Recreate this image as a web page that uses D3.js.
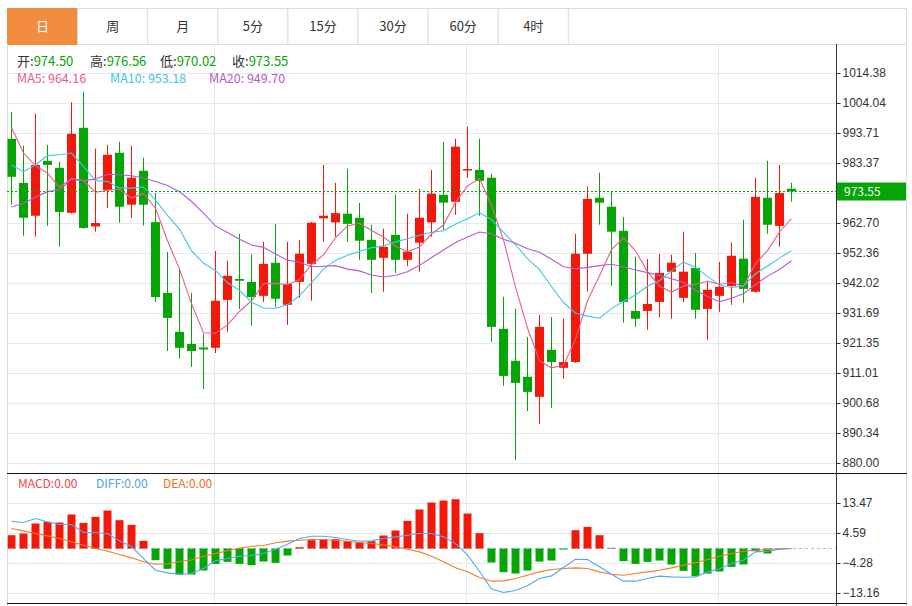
<!DOCTYPE html>
<html>
<head>
<meta charset="utf-8">
<script src="https://cdn.jsdelivr.net/npm/d3@7/dist/d3.min.js"></script>
<style>
  body { margin: 0; background: #fff; }
  svg { display: block; font-family: "Noto Sans CJK SC", "Noto Sans", sans-serif; }
</style>
</head>
<body>
<svg id="chart" width="912" height="606"></svg>
<script>
//tab labels
const tabs = ['日', '周', '月', '5分', '15分', '30分', '60分', '4时'];

//daily candles, oldest first
const open = [991.7, 976.5, 965.2, 984.1, 981.7, 966.2, 995.5, 961.5, 974.1, 986.9,
    969.0, 980.7, 963.0, 938.6, 925.2, 921.0, 919.8, 919.7, 936.2, 943.4,
    942.4, 937.6, 949.0, 934.5, 942.4, 948.6, 964.3, 962.9, 965.9, 964.5,
    956.9, 950.7, 958.6, 950.0, 955.9, 962.9, 972.4, 970.0, 980.8, 981.0,
    978.3, 926.2, 915.2, 909.7, 902.8, 919.0, 912.8, 914.8, 952.1, 971.4,
    968.3, 960.0, 932.4, 932.4, 935.5, 945.9, 936.9, 947.2, 933.1, 937.6,
    941.0, 950.4, 939.0, 971.4, 961.7, 974.50];
const high = [1001.0, 989.3, 1000.3, 989.6, 983.8, 1004.3, 1007.9, 988.3, 989.6, 990.7,
    989.3, 985.2, 973.0, 952.7, 946.9, 938.6, 924.4, 953.1, 949.7, 959.0,
    951.8, 956.2, 962.4, 956.2, 956.9, 963.1, 982.7, 976.5, 981.4, 969.6,
    962.1, 960.7, 972.4, 965.9, 974.5, 981.0, 990.7, 991.7, 995.9, 991.7,
    979.7, 937.3, 933.1, 923.4, 931.0, 930.3, 929.7, 959.0, 975.3, 980.0,
    973.4, 964.8, 951.1, 950.3, 952.1, 951.8, 959.7, 952.4, 942.8, 949.3,
    955.9, 963.8, 978.3, 984.1, 982.7, 976.56];
const low = [969.0, 958.3, 958.0, 961.7, 954.5, 965.9, 960.7, 959.7, 967.9, 962.8,
    964.5, 961.8, 935.5, 918.6, 915.9, 913.1, 905.5, 917.9, 925.2, 933.1,
    927.3, 935.5, 933.8, 927.6, 936.9, 935.9, 956.2, 958.0, 956.2, 950.0,
    938.6, 939.0, 945.5, 947.9, 945.9, 958.0, 960.3, 965.5, 978.3, 965.2,
    921.7, 906.6, 881.0, 897.9, 893.4, 899.0, 909.0, 914.5, 939.0, 962.1,
    941.0, 928.3, 926.9, 925.9, 930.3, 929.7, 935.5, 929.7, 922.4, 932.1,
    934.5, 935.2, 938.7, 959.0, 954.5, 970.02];
const close = [978.6, 964.5, 982.7, 982.7, 966.5, 993.4, 961.0, 962.7, 986.2, 968.3,
    978.3, 969.0, 937.2, 930.0, 919.7, 918.6, 919.1, 935.9, 944.5, 942.8,
    937.2, 948.6, 936.6, 941.7, 952.1, 962.8, 965.2, 966.1, 962.4, 956.6,
    950.0, 954.5, 950.0, 952.8, 964.5, 972.8, 969.7, 989.0, 981.3, 977.2,
    926.9, 910.0, 907.6, 904.5, 926.9, 914.8, 914.8, 952.1, 971.0, 969.7,
    959.7, 935.5, 929.7, 934.8, 945.5, 949.0, 945.9, 932.8, 939.7, 940.7,
    951.4, 940.0, 971.7, 962.1, 973.0, 973.55];

//moving averages as drawn
const ma5 = [995.6, 986.8, 982.4, 979.9, 975.0, 978.0, 977.3, 973.3, 974.0, 974.3,
    971.3, 972.9, 967.8, 956.6, 946.8, 934.9, 924.9, 924.7, 927.6, 932.2,
    935.9, 941.8, 941.9, 941.4, 943.2, 948.4, 951.7, 957.6, 961.7, 962.6,
    960.1, 957.9, 954.7, 952.8, 954.4, 958.9, 962.0, 969.8, 975.5, 978.0,
    968.8, 956.9, 940.6, 926.5, 915.2, 912.8, 913.7, 922.6, 935.9, 944.5,
    953.5, 957.6, 953.1, 945.9, 941.0, 938.9, 941.0, 941.6, 942.6, 941.6,
    942.1, 940.9, 948.7, 953.2, 959.6, 964.16];
const ma10 = [982.7, 980.4, 982.7, 985.9, 986.2, 986.8, 982.2, 977.3, 977.0, 974.7,
    974.7, 975.1, 970.6, 965.3, 960.6, 953.1, 948.9, 946.3, 942.1, 939.5,
    935.4, 933.4, 933.3, 934.5, 937.7, 942.1, 946.8, 949.8, 951.6, 952.9,
    954.2, 954.8, 956.2, 957.3, 958.5, 959.5, 960.0, 962.3, 964.2, 966.2,
    963.9, 959.5, 955.2, 950.4, 946.6, 940.8, 935.3, 931.6, 930.6, 929.9,
    933.2, 935.7, 937.9, 940.9, 942.8, 946.2, 949.3, 947.4, 944.3, 941.3,
    940.5, 941.0, 945.2, 947.9, 950.6, 953.18];
const ma20 = [968.2, 969.5, 971.6, 973.5, 974.1, 977.8, 977.3, 977.8, 979.5, 979.3,
    979.0, 978.2, 977.0, 975.6, 973.5, 970.1, 966.1, 961.7, 959.4, 957.1,
    955.1, 954.3, 952.0, 949.9, 949.2, 947.6, 947.8, 948.0, 946.8, 946.2,
    944.8, 944.1, 944.7, 945.9, 948.1, 950.8, 953.4, 956.0, 957.9, 959.6,
    959.0, 957.1, 955.7, 953.8, 952.6, 950.2, 947.6, 946.9, 947.4, 948.0,
    948.5, 947.6, 946.5, 945.6, 944.7, 943.5, 942.3, 939.5, 937.4, 935.6,
    936.8, 938.3, 941.5, 944.4, 946.7, 949.70];

//macd panel
const macd = [3.94, 4.44, 7.40, 7.89, 7.69, 10.06, 7.59, 9.37, 11.24, 8.38,
    7.00, 2.27, -3.45, -6.01, -7.69, -7.69, -6.51, -4.54, -3.94, -4.54,
    -4.93, -3.85, -4.24, -2.07, 0.39, 2.47, 2.76, 2.76, 2.17, 1.77,
    2.17, 3.85, 5.32, 8.18, 11.54, 13.61, 14.20, 14.59, 10.35, 4.54,
    -4.14, -7.00, -7.40, -6.51, -3.85, -3.55, -0.30, 5.42, 6.41, 3.94,
    0.20, -3.75, -4.54, -3.94, -3.55, -4.73, -6.61, -8.18, -7.40, -6.80,
    -5.42, -4.73, -0.79, -1.48, -0.20, 0.00];
const diff = [8.09, 7.69, 8.87, 7.89, 7.10, 7.10, 4.73, 4.73, 4.44, 2.27,
    0.60, -2.96, -6.41, -7.20, -7.59, -7.40, -5.92, -3.60, -2.96, -2.27,
    -2.07, -1.48, -0.20, 1.28, 2.96, 3.65, 3.65, 3.25, 2.66, 2.17,
    2.27, 2.96, 3.45, 3.94, 4.44, 4.44, 3.45, 1.48, -1.90, -6.80,
    -12.0, -13.0, -12.4, -11.0, -8.87, -8.09, -5.62, -3.16, -3.25, -5.42,
    -7.59, -9.66, -9.66, -8.87, -8.18, -8.38, -8.48, -8.38, -6.90, -6.01,
    -4.44, -3.45, -0.99, -0.79, -0.20, 0.00];
const dea = [5.92, 5.23, 4.44, 3.75, 2.96, 1.97, 0.99, 0.00, -0.79, -1.77,
    -2.76, -3.94, -4.65, -4.50, -3.85, -3.40, -2.30, -1.50, -0.65, 0.15,
    0.60, 0.90, 1.70, 2.20, 2.47, 2.66, 2.66, 2.47, 2.17, 1.77,
    1.48, 1.08, 0.49, -0.20, -0.99, -2.27, -3.94, -5.72, -6.90, -8.60,
    -9.66, -9.56, -8.87, -7.89, -6.90, -6.20, -5.90, -5.72, -5.90, -6.90,
    -7.60, -7.89, -7.40, -6.90, -6.41, -5.72, -4.93, -4.24, -3.25, -2.27,
    -1.48, -0.79, -0.49, -0.30, -0.10, 0.00];

//axis tick labels
const priceTicks = [880.00, 890.34, 900.68, 911.01, 921.35, 931.69, 942.02, 952.36,
    962.70, 973.03, 983.37, 993.71, 1004.04, 1014.38];
const macdTicks = [-13.16, -4.28, 4.59, 13.47];
//candles where a month gridline falls
const monthStarts = [17, 38, 59];

const red = '#f2190a', green = '#05a505', grid = '#e3e9ef';
const svg = d3.select('#chart');
const left = 7, right = 906, axisX = 836;

//scales
const x = d3.scaleLinear().domain([0, close.length - 1]).range([11, 791]);
const y = d3.scaleLinear().domain([880, 1014.38]).range([463, 73]);
const ym = d3.scaleLinear().domain([-13.16, 13.47]).range([593, 503]);

svg.append('rect').attr('width', 912).attr('height', 606).attr('fill', '#fff');

const defs = svg.append('defs');
defs.append('clipPath').attr('id', 'main-clip')
    .append('rect').attr('x', left + 0.5).attr('y', 45).attr('width', axisX - left - 0.5).attr('height', 428);
defs.append('clipPath').attr('id', 'macd-clip')
    .append('rect').attr('x', left + 0.5).attr('y', 474).attr('width', axisX - left - 0.5).attr('height', 129);

//tab bar
const tabW = 70.1;
svg.append('rect')
    .attr('x', left + 0.5).attr('y', 8.5)
    .attr('width', right - left).attr('height', 36)
    .attr('fill', '#fff').attr('stroke', '#dcdcdc');
const tabG = svg.append('g').selectAll('g').data(tabs).join('g')
    .attr('transform', (d, i) => `translate(${left + 0.5 + i * tabW},8.5)`);
tabG.append('rect')
    .attr('width', tabW).attr('height', 36)
    .attr('fill', (d, i) => i === 0 ? '#f28c3f' : '#fff')
    .attr('stroke', (d, i) => i === 0 ? '#f28c3f' : '#dcdcdc');
tabG.append('text')
    .attr('x', tabW / 2).attr('y', 18).attr('dy', '0.35em')
    .attr('text-anchor', 'middle')
    .style('font-size', '13px')
    .attr('fill', (d, i) => i === 0 ? '#fff' : '#333')
    .text(d => d);

//side borders
svg.append('line').attr('x1', left + 0.5).attr('x2', left + 0.5).attr('y1', 44).attr('y2', 606).attr('stroke', '#dcdcdc');
svg.append('line').attr('x1', right + 0.5).attr('x2', right + 0.5).attr('y1', 44).attr('y2', 606).attr('stroke', '#dcdcdc');

//horizontal gridlines
svg.append('g').selectAll('line').data(priceTicks).join('line')
    .attr('x1', left).attr('x2', axisX)
    .attr('y1', d => Math.round(y(d)) + 0.5).attr('y2', d => Math.round(y(d)) + 0.5)
    .attr('stroke', grid);
svg.append('g').selectAll('line').data(macdTicks).join('line')
    .attr('x1', left).attr('x2', axisX)
    .attr('y1', d => Math.round(ym(d)) + 0.5).attr('y2', d => Math.round(ym(d)) + 0.5)
    .attr('stroke', grid);

//vertical gridlines
svg.append('g').selectAll('line').data(monthStarts).join('line')
    .attr('x1', d => Math.round(x(d)) - 0.5).attr('x2', d => Math.round(x(d)) - 0.5)
    .attr('y1', 44).attr('y2', 603)
    .attr('stroke', grid);

//legend rows
const last = close.length - 1;
const ohlc = [{k: '开:', v: open[last], x: 17}, {k: '高:', v: high[last], x: 90},
              {k: '低:', v: low[last], x: 160}, {k: '收:', v: close[last], x: 232}];
const ohlcText = svg.append('g').style('font-size', '13px')
    .selectAll('text').data(ohlc).join('text')
    .attr('x', d => d.x).attr('y', 61).attr('dy', '0.35em');
ohlcText.append('tspan').attr('fill', '#333').text(d => d.k);
ohlcText.append('tspan').attr('fill', green).text(d => d.v.toFixed(2));

const maKeys = [{k: 'MA5', s: ma5, c: '#ef5a8c', x: 17},
                {k: 'MA10', s: ma10, c: '#3fc6e2', x: 110},
                {k: 'MA20', s: ma20, c: '#b35bd0', x: 209}];
svg.append('g').style('font-size', '12.5px')
    .selectAll('text').data(maKeys).join('text')
    .attr('x', d => d.x).attr('y', 79).attr('dy', '0.35em')
    .attr('fill', d => d.c)
    .text(d => `${d.k}: ${d.s[last].toFixed(2)}`);

//candles
const idx = d3.range(close.length);
const candles = svg.append('g').attr('clip-path', 'url(#main-clip)');
const cg = candles.selectAll('g').data(idx).join('g');
cg.append('line')
    .attr('x1', i => x(i) + 0.5).attr('x2', i => x(i) + 0.5)
    .attr('y1', i => y(high[i])).attr('y2', i => y(low[i]))
    .attr('stroke', i => close[i] >= open[i] ? red : green);
cg.append('rect')
    .attr('x', i => x(i) - 4).attr('width', 9)
    .attr('y', i => y(Math.max(open[i], close[i])))
    .attr('height', i => Math.max(1.5, Math.abs(y(open[i]) - y(close[i]))))
    .attr('fill', i => close[i] >= open[i] ? red : green);

//moving average lines
const maLine = s => d3.line().x(i => x(i) + 0.5).y(i => y(s[i]))(idx);
candles.append('g').selectAll('path').data(maKeys).join('path')
    .attr('d', d => maLine(d.s))
    .attr('fill', 'none').attr('stroke', d => d.c).attr('stroke-width', 1.1);

//last price line and tag
const py = Math.round(y(close[last])) + 0.5;
svg.append('line')
    .attr('x1', left).attr('x2', axisX).attr('y1', py).attr('y2', py)
    .attr('stroke', green).attr('stroke-dasharray', '2,2');
svg.append('rect')
    .attr('x', axisX + 1).attr('y', py - 9).attr('width', right - axisX - 1).attr('height', 18)
    .attr('fill', green);

//price axis
const yAxis = g => g
    .attr('transform', `translate(${axisX + 0.5},0)`)
    .call(d3.axisRight(y).tickValues(priceTicks.filter(v => v !== 973.03)).tickFormat(d3.format('.2f')).tickSize(4).tickSizeOuter(0));
svg.append('g').call(yAxis);
svg.append('text')
    .attr('x', axisX + 8).attr('y', py).attr('dy', '0.35em')
    .attr('fill', '#fff').style('font-size', '12px')
    .text(close[last].toFixed(2));

//macd panel
const mg = svg.append('g').attr('clip-path', 'url(#macd-clip)');
mg.append('line')
    .attr('x1', left).attr('x2', axisX)
    .attr('y1', ym(0)).attr('y2', ym(0))
    .attr('stroke', '#8fd0ee').attr('stroke-dasharray', '3,3');
mg.selectAll('rect').data(idx).join('rect')
    .attr('x', i => x(i) - 3.5).attr('width', 8)
    .attr('y', i => Math.min(ym(0), ym(macd[i])))
    .attr('height', i => Math.abs(ym(macd[i]) - ym(0)))
    .attr('fill', i => macd[i] >= 0 ? red : green);
const mLine = s => d3.line().x(i => x(i) + 0.5).y(i => ym(s[i]))(idx);
mg.append('path').attr('d', mLine(dea)).attr('fill', 'none').attr('stroke', '#f57a22').attr('stroke-width', 1.1);
mg.append('path').attr('d', mLine(diff)).attr('fill', 'none').attr('stroke', '#55a7f2').attr('stroke-width', 1.1);

const mLegend = [{t: 'MACD:0.00', c: '#f04545', x: 18},
                 {t: 'DIFF:0.00', c: '#4aa2f2', x: 96},
                 {t: 'DEA:0.00', c: '#f36c1c', x: 163}];
svg.append('g').style('font-size', '12px')
    .selectAll('text').data(mLegend).join('text')
    .attr('x', d => d.x).attr('y', 484).attr('dy', '0.35em')
    .attr('fill', d => d.c).text(d => d.t);

svg.append('g')
    .attr('transform', `translate(${axisX + 0.5},0)`)
    .call(d3.axisRight(ym).tickValues(macdTicks).tickFormat(d3.format('.2f')).tickSize(4).tickSizeOuter(0));

//panel separators and axis line
svg.append('line').attr('x1', left).attr('x2', right + 1).attr('y1', 473.5).attr('y2', 473.5).attr('stroke', '#111');
svg.append('line').attr('x1', left).attr('x2', right + 1).attr('y1', 603.5).attr('y2', 603.5).attr('stroke', '#111');
svg.append('line').attr('x1', axisX + 0.5).attr('x2', axisX + 0.5).attr('y1', 44).attr('y2', 606).attr('stroke', '#333');

svg.selectAll('.tick text').attr('fill', '#333').style('font-size', '12px').attr('x', 6);
svg.selectAll('.tick line').attr('stroke', '#333');
svg.selectAll('.domain').remove();
</script>
</body>
</html>
